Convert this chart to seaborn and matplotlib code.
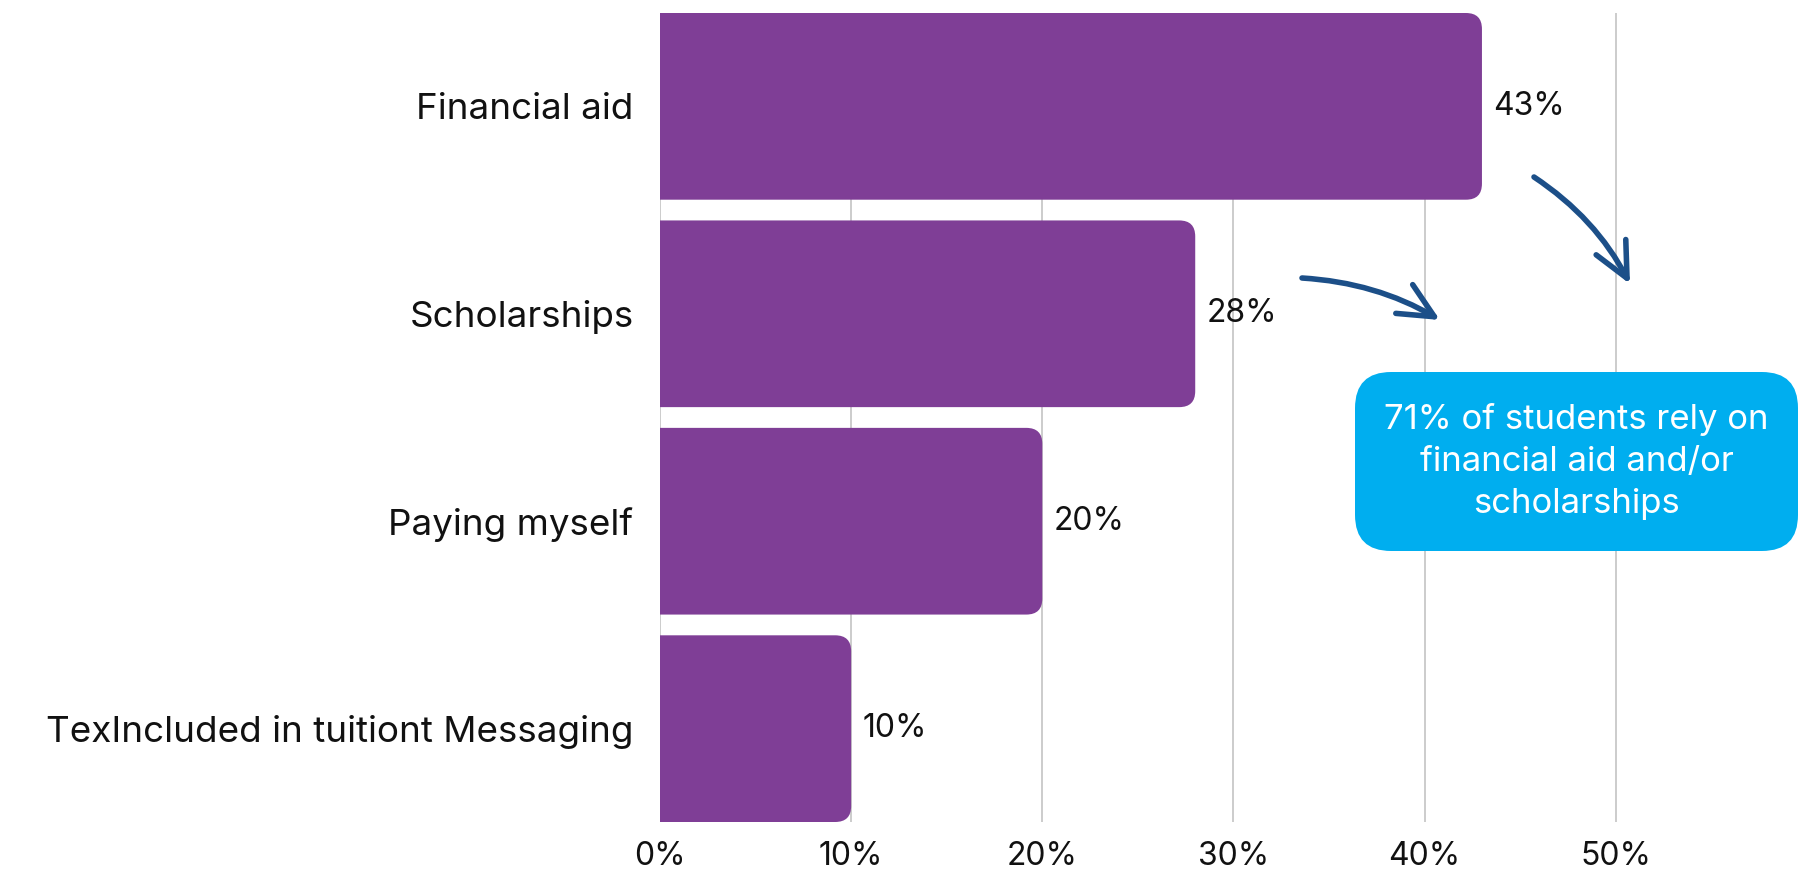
import matplotlib
matplotlib.use("Agg")
import matplotlib.pyplot as plt
import seaborn as sns
import pandas as pd
from matplotlib.path import Path
from matplotlib.patches import PathPatch, FancyBboxPatch

# Funding sources and share of students (%)
categories = ["Financial aid", "Scholarships", "Paying myself",
              "TexIncluded in tuitiont Messaging"]
shares = [43, 28, 20, 10]
tick_values = [0, 10, 20, 30, 40, 50]
tick_labels = ["0%", "10%", "20%", "30%", "40%", "50%"]
callout_text = "71% of students rely on\nfinancial aid and/or\nscholarships"

BAR_COLOR = "#7f3e96"
CALLOUT_COLOR = "#00aeef"
ARROW_COLOR = "#1c4f88"
FONT = "Inter"

sns.set_theme(style="white")
plt.rcParams["font.family"] = [FONT, "DejaVu Sans"]

df = pd.DataFrame({"source": categories, "share": shares})

W, H = 1805, 872
fig = plt.figure(figsize=(W / 100, H / 100), dpi=100)
ax = fig.add_axes([660 / W, 1 - 822 / H, 1 - 660 / W, (822 - 13) / H])

sns.barplot(data=df, x="share", y="source", orient="h", color=BAR_COLOR,
            width=0.9, saturation=1, ax=ax, zorder=2)

ax.set_xlim(0, 59.9)
ax.set_ylim(3.45, -0.45)

# replace the plain rectangles by bars with rounded right ends
px_per_x = (W - 660) / 59.9
px_per_y = (822 - 13) / 3.9
r_px = 16
rx, ry = r_px / px_per_x, r_px / px_per_y
for p in list(ax.patches):
    x0, y0, w, h = p.get_x(), p.get_y(), p.get_width(), p.get_height()
    x1, y1 = x0 + w, y0 + h
    verts = [(x0, y0), (x1 - rx, y0), (x1, y0), (x1, y0 + ry),
             (x1, y1 - ry), (x1, y1), (x1 - rx, y1), (x0, y1), (x0, y0)]
    codes = [Path.MOVETO, Path.LINETO, Path.CURVE3, Path.CURVE3,
             Path.LINETO, Path.CURVE3, Path.CURVE3, Path.LINETO, Path.CLOSEPOLY]
    ax.add_patch(PathPatch(Path(verts, codes), facecolor=BAR_COLOR,
                           edgecolor="none", zorder=2))
    p.set_visible(False)

# value labels
for i, v in enumerate(shares):
    ax.text(v + 11 / px_per_x, i, f"{v}%", va="center", ha="left",
            fontsize=23, color="#111111")

# vertical grid lines
for t in tick_values:
    ax.axvline(t, color="#c8c8c8", lw=1.3, zorder=1)

ax.set_xticks(tick_values)
ax.set_xticklabels(tick_labels)
ax.tick_params(axis="x", length=0, pad=14, labelsize=23, labelcolor="#111111")
ax.tick_params(axis="y", length=0, pad=19, labelsize=26.5, labelcolor="#111111")
ax.set_xlabel("")
ax.set_ylabel("")
for s in ax.spines.values():
    s.set_visible(False)
ax.grid(False)

# callout box
bx0, by0, bx1, by1 = 1355, 372, 1798, 551
box = FancyBboxPatch((bx0 / W, 1 - by1 / H), (bx1 - bx0) / W, (by1 - by0) / H,
                     boxstyle="round,pad=0,rounding_size=0.02",
                     transform=fig.transFigure, facecolor=CALLOUT_COLOR,
                     edgecolor="none", mutation_aspect=W / H)
fig.patches.append(box)
fig.text((bx0 + bx1) / 2 / W, 1 - (by0 + by1) / 2 / H, callout_text,
         ha="center", va="center", color="white", fontsize=25,
         linespacing=1.4)

# hand-drawn style arrows pointing at the callout
arrow_kw = dict(arrowstyle="->,head_length=2.1,head_width=1.0",
                color=ARROW_COLOR, lw=4.0, capstyle="round",
                joinstyle="round", shrinkA=0, shrinkB=0)
fig_px = "figure pixels"
ax.annotate("", xy=(1440, H - 320), xytext=(1302, H - 278),
            xycoords=fig_px, textcoords=fig_px,
            arrowprops=dict(connectionstyle="arc3,rad=-0.12", **arrow_kw))
ax.annotate("", xy=(1630, H - 284), xytext=(1534, H - 177),
            xycoords=fig_px, textcoords=fig_px,
            arrowprops=dict(connectionstyle="arc3,rad=-0.13", **arrow_kw))

fig.savefig("out.png", dpi=100, facecolor="white")
